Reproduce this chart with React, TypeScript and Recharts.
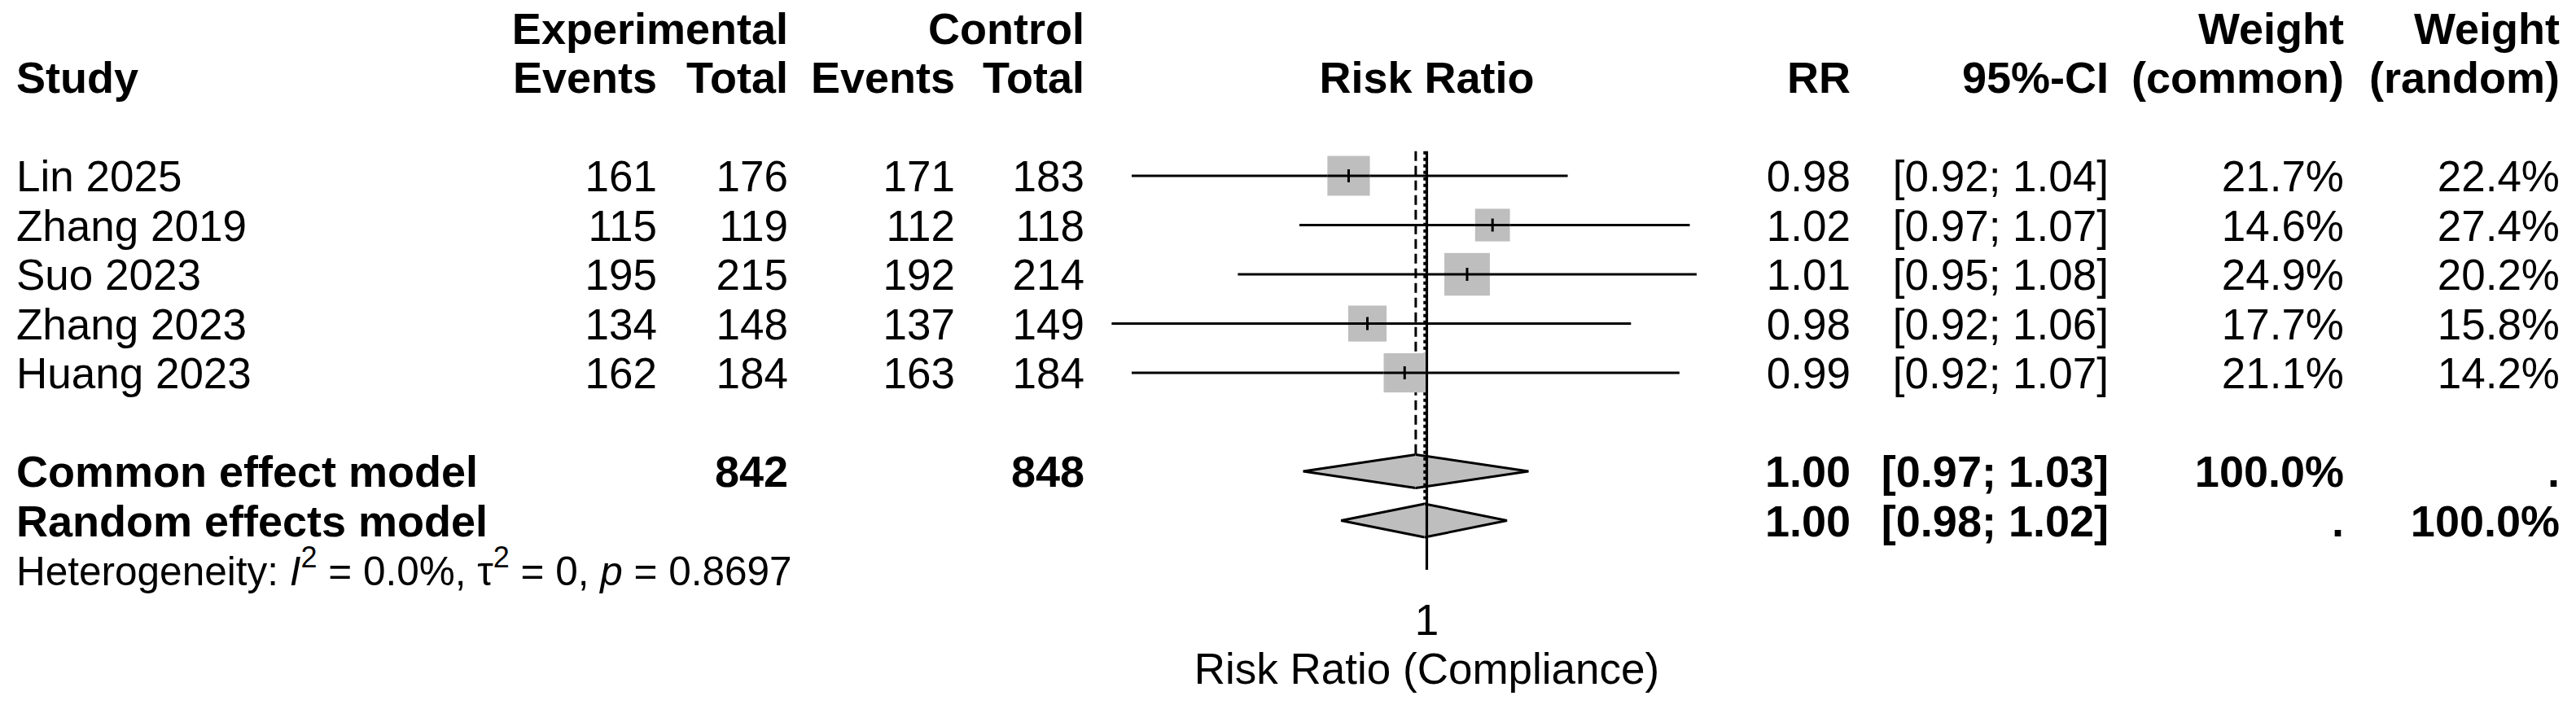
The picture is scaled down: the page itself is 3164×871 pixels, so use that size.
import React from 'react'
import {
  ComposedChart,
  XAxis,
  YAxis,
  Scatter,
  ErrorBar,
  ReferenceLine,
  ReferenceArea,
  ReferenceDot,
} from 'recharts'

// study level data
const studies = ['Lin 2025', 'Zhang 2019', 'Suo 2023', 'Zhang 2023', 'Huang 2023']
const expEvents = [161, 115, 195, 134, 162]
const expTotal = [176, 119, 215, 148, 184]
const ctrlEvents = [171, 112, 192, 137, 163]
const ctrlTotal = [183, 118, 214, 149, 184]
const riskRatio = [0.979, 1.018, 1.011, 0.984, 0.994]
const ciLow = [0.923, 0.966, 0.95, 0.918, 0.923]
const ciHigh = [1.039, 1.074, 1.076, 1.057, 1.071]
const weightCommon = [21.7, 14.6, 24.9, 17.7, 21.1]
const weightRandom = [22.4, 27.4, 20.2, 15.8, 14.2]

// pooled estimates [estimate, lower, upper]
const commonModel = [0.997, 0.967, 1.028]
const randomModel = [0.9994, 0.977, 1.022]

const hetI2 = '0.0%'
const hetTau2 = '0'
const hetP = '0.8697'
const xTicks = [1]
const xLabel = 'Risk Ratio (Compliance)'

const FONT = '"Liberation Sans", Arial, Helvetica, sans-serif'
const FS = 53
const FS_BOLD = 54
const GRAY = '#BEBEBE'
const LW = 3

// right edges of the text columns (study names start at 20)
const COL = {
  study: 20,
  expEv: 807,
  expTot: 968,
  ctlEv: 1173,
  ctlTot: 1332,
  rr: 2273,
  ci: 2590,
  wCommon: 2879,
  wRandom: 3144,
}

type Cell = { text: string; x: number; anchor?: 'start' | 'middle' | 'end'; bold?: boolean }

const fmtCI = (lo: number, hi: number) => `[${lo.toFixed(2)}; ${hi.toFixed(2)}]`
const sum = (a: number[]) => a.reduce((s, v) => s + v, 0)

const rowCells: Record<number, Cell[]> = {
  [-3]: [
    { text: 'Experimental', x: COL.expTot, bold: true },
    { text: 'Control', x: COL.ctlTot, bold: true },
    { text: 'Weight', x: COL.wCommon, bold: true },
    { text: 'Weight', x: COL.wRandom, bold: true },
  ],
  [-2]: [
    { text: 'Study', x: COL.study, anchor: 'start', bold: true },
    { text: 'Events', x: COL.expEv, bold: true },
    { text: 'Total', x: COL.expTot, bold: true },
    { text: 'Events', x: COL.ctlEv, bold: true },
    { text: 'Total', x: COL.ctlTot, bold: true },
    { text: 'RR', x: COL.rr, bold: true },
    { text: '95%-CI', x: COL.ci, bold: true },
    { text: '(common)', x: COL.wCommon, bold: true },
    { text: '(random)', x: COL.wRandom, bold: true },
  ],
  [6]: [
    { text: 'Common effect model', x: COL.study, anchor: 'start', bold: true },
    { text: String(sum(expTotal)), x: COL.expTot, bold: true },
    { text: String(sum(ctrlTotal)), x: COL.ctlTot, bold: true },
    { text: commonModel[0].toFixed(2), x: COL.rr, bold: true },
    { text: fmtCI(commonModel[1], commonModel[2]), x: COL.ci, bold: true },
    { text: '100.0%', x: COL.wCommon, bold: true },
    { text: '.', x: COL.wRandom, bold: true },
  ],
  [7]: [
    { text: 'Random effects model', x: COL.study, anchor: 'start', bold: true },
    { text: randomModel[0].toFixed(2), x: COL.rr, bold: true },
    { text: fmtCI(randomModel[1], randomModel[2]), x: COL.ci, bold: true },
    { text: '.', x: COL.wCommon, bold: true },
    { text: '100.0%', x: COL.wRandom, bold: true },
  ],
}

studies.forEach((name, i) => {
  rowCells[i] = [
    { text: name, x: COL.study, anchor: 'start' },
    { text: String(expEvents[i]), x: COL.expEv },
    { text: String(expTotal[i]), x: COL.expTot },
    { text: String(ctrlEvents[i]), x: COL.ctlEv },
    { text: String(ctrlTotal[i]), x: COL.ctlTot },
    { text: riskRatio[i].toFixed(2), x: COL.rr },
    { text: fmtCI(ciLow[i], ciHigh[i]), x: COL.ci },
    { text: weightCommon[i].toFixed(1) + '%', x: COL.wCommon },
    { text: weightRandom[i].toFixed(1) + '%', x: COL.wRandom },
  ]
})

const HET_ROW = 8
const rowTicks = [-3, -2, 0, 1, 2, 3, 4, 6, 7, HET_ROW]

const points = studies.map((name, i) => ({
  name,
  x: riskRatio[i],
  y: i,
  err: [riskRatio[i] - ciLow[i], ciHigh[i] - riskRatio[i]],
  w: weightCommon[i],
}))

const RowText = (props: any) => {
  const { y, payload } = props
  const base = y + 19
  if (payload.value === HET_ROW) {
    const sup = 36
    return (
      <text x={COL.study} y={base} fontFamily={FONT} fontSize={49.5} fill="#000">
        <tspan>Heterogeneity: </tspan>
        <tspan fontStyle="italic">I</tspan>
        <tspan fontSize={sup} dy={-22}>2</tspan>
        <tspan dy={22}>{` = ${hetI2}, `}</tspan>
        <tspan>τ</tspan>
        <tspan fontSize={sup} dy={-22}>2</tspan>
        <tspan dy={22}>{` = ${hetTau2}, `}</tspan>
        <tspan fontStyle="italic">p</tspan>
        <tspan>{` = ${hetP}`}</tspan>
      </text>
    )
  }
  const cells = rowCells[payload.value] || []
  return (
    <g>
      {cells.map((c, k) => (
        <text
          key={k}
          x={c.x}
          y={base}
          textAnchor={c.anchor || 'end'}
          fontFamily={FONT}
          fontSize={c.bold ? FS_BOLD : FS}
          fontWeight={c.bold ? 'bold' : 'normal'}
          fill="#000"
        >
          {c.text}
        </text>
      ))}
    </g>
  )
}

// grey box sized by the common-effect weight; the CI line runs through it
const BoxShape = (props: any) => {
  const { cx, cy, payload } = props
  const s = Math.sqrt(payload.w)
  const w = 11.2 * s
  const h = 10.5 * s
  return (
    <g>
      <rect x={cx - w / 2} y={cy - h / 2} width={w} height={h} fill={GRAY} />
      <line x1={cx - w / 2} x2={cx + w / 2} y1={cy} y2={cy} stroke="#000" strokeWidth={LW} />
    </g>
  )
}

const TickShape = (props: any) => {
  const { cx, cy } = props
  return <line x1={cx} x2={cx} y1={cy - 8} y2={cy + 8} stroke="#000" strokeWidth={3} />
}

const halfDiamond = (side: 'left' | 'right') => (p: any) => {
  const { x, y, width, height } = p
  const my = y + height / 2
  const fillPts =
    side === 'left'
      ? `${x},${my} ${x + width + 0.6},${y} ${x + width + 0.6},${y + height}`
      : `${x - 0.6},${y} ${x + width},${my} ${x - 0.6},${y + height}`
  const edge =
    side === 'left'
      ? `${x + width},${y} ${x},${my} ${x + width},${y + height}`
      : `${x},${y} ${x + width},${my} ${x},${y + height}`
  return (
    <g>
      <polygon points={fillPts} fill={GRAY} stroke="none" />
      <polyline points={edge} fill="none" stroke="#000" strokeWidth={LW} />
    </g>
  )
}

const textAt = (label: string, dy: number, bold = false) => (p: any) => (
  <text
    x={p.cx}
    y={p.cy + dy}
    textAnchor="middle"
    fontFamily={FONT}
    fontSize={bold ? FS_BOLD : FS}
    fontWeight={bold ? 'bold' : 'normal'}
    fill="#000"
  >
    {label}
  </text>
)

const DH = 0.34

export default function App() {
  const pooled = [
    { row: 6, m: commonModel },
    { row: 7, m: randomModel },
  ]
  return (
    <div style={{ width: 3164, height: 871, background: '#fff' }}>
      <style>{'body{margin:0;background:#fff}'}</style>
      <ComposedChart
        width={3164}
        height={871}
        margin={{ top: 4.25, right: 980.3, bottom: 19.75, left: 0 }}
      >
        <XAxis type="number" dataKey="x" scale="log" domain={[0.9, 1.1]} allowDataOverflow hide />
        <YAxis
          type="number"
          dataKey="y"
          domain={[-3.5, 10.5]}
          reversed
          allowDataOverflow
          ticks={rowTicks}
          interval={0}
          width={1275.8}
          axisLine={false}
          tickLine={false}
          tick={<RowText />}
        />

        {/* line of no effect and pooled estimate lines */}
        <ReferenceLine
          segment={[{ x: 1, y: -0.5 }, { x: 1, y: HET_ROW }]}
          stroke="#000"
          strokeWidth={3.2}
        />
        <ReferenceLine
          segment={[{ x: commonModel[0], y: -0.5 }, { x: commonModel[0], y: 6 - DH }]}
          stroke="#000"
          strokeWidth={3}
          strokeDasharray="12 6"
        />
        <ReferenceLine
          segment={[{ x: randomModel[0], y: -0.5 }, { x: randomModel[0], y: 7 - DH }]}
          stroke="#000"
          strokeWidth={3}
          strokeDasharray="4 4"
        />

        <Scatter data={points} shape={BoxShape} isAnimationActive={false} />
        <Scatter data={points} shape={TickShape} isAnimationActive={false}>
          <ErrorBar
            dataKey="err"
            direction="x"
            width={0}
            stroke="#000"
            strokeWidth={LW}
            isAnimationActive={false}
          />
        </Scatter>

        {pooled.map(({ row, m }) => [
          <ReferenceArea
            key={`l${row}`}
            x1={m[1]}
            x2={m[0]}
            y1={row - DH}
            y2={row + DH}
            shape={halfDiamond('left')}
          />,
          <ReferenceArea
            key={`r${row}`}
            x1={m[0]}
            x2={m[2]}
            y1={row - DH}
            y2={row + DH}
            shape={halfDiamond('right')}
          />,
        ])}

        <ReferenceDot x={1} y={-2} r={1} shape={textAt('Risk Ratio', 19, true)} />
        {xTicks.map((t) => (
          <ReferenceDot key={t} x={t} y={9} r={1} shape={textAt(String(t), 19)} />
        ))}
        <ReferenceDot x={1} y={10} r={1} shape={textAt(xLabel, 19)} />
      </ComposedChart>
    </div>
  )
}
